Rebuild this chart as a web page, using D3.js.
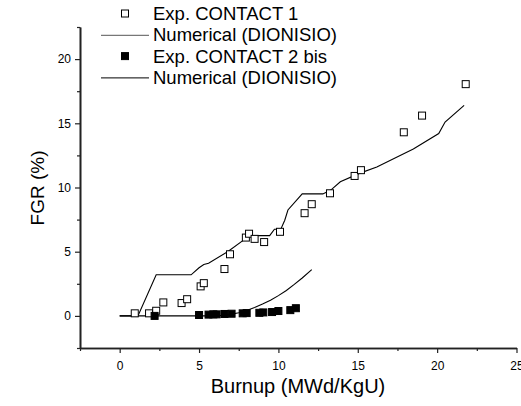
<!DOCTYPE html>
<html>
<head>
<meta charset="utf-8">
<script src="https://cdn.jsdelivr.net/npm/d3@7"></script>
<style>
  body { margin: 0; background: #fff; }
  text { font-family: Arial, "Liberation Sans", sans-serif; }
</style>
</head>
<body>
<script>
// Exp. CONTACT 1 (open squares): burnup, FGR
var expC1Burnup = [0.95, 1.85, 2.3, 2.75, 3.9, 4.25, 5.1, 5.3, 6.6, 6.95, 7.95, 8.15, 8.5, 9.1, 10.1, 11.65, 12.1, 13.25, 14.8, 15.2, 17.9, 19.05, 21.8];
var expC1Fgr    = [0.2, 0.2, 0.4, 1.05, 1.0, 1.3, 2.3, 2.55, 3.65, 4.8, 6.1, 6.4, 6.0, 5.75, 6.55, 8.0, 8.7, 9.55, 10.9, 11.35, 14.3, 15.6, 18.05];

// Numerical (DIONISIO) for CONTACT 1
var numC1Burnup = [0, 1.15, 2.3, 4.5, 5.0, 5.3, 5.6, 6.8, 7.8, 8.1, 9.45, 9.75, 10.15, 10.4, 10.6, 11.5, 12.8, 13.3, 13.9, 15.1, 16.2, 18.5, 20.1, 20.5, 21.7];
var numC1Fgr    = [0, 0, 3.2, 3.2, 3.75, 4.0, 4.1, 5.0, 5.9, 6.25, 6.25, 6.75, 6.75, 7.45, 8.25, 9.5, 9.5, 9.8, 10.45, 11.1, 11.6, 13.0, 14.2, 15.1, 16.4];

// Exp. CONTACT 2 bis (filled squares)
var expC2Burnup = [2.2, 5.0, 5.6, 5.9, 6.1, 6.6, 7.05, 7.75, 8.0, 8.8, 9.05, 9.6, 10.0, 10.75, 11.1];
var expC2Fgr    = [0.0, 0.07, 0.1, 0.12, 0.12, 0.15, 0.17, 0.2, 0.22, 0.24, 0.27, 0.3, 0.38, 0.45, 0.6];

// Numerical (DIONISIO) for CONTACT 2 bis
var numC2Burnup = [0, 6.0, 6.5, 7.0, 7.5, 8.0, 8.5, 9.0, 9.5, 10.0, 10.5, 11.0, 11.5, 12.1];
var numC2Fgr    = [0, 0, 0.05, 0.12, 0.25, 0.42, 0.65, 0.92, 1.22, 1.58, 1.98, 2.45, 2.95, 3.6];

var legendLabels = ["Exp. CONTACT 1", "Numerical (DIONISIO)", "Exp. CONTACT 2 bis", "Numerical (DIONISIO)"];

var xMajor = [0, 5, 10, 15, 20, 25];
var xMinor = [-2.5, 2.5, 7.5, 12.5, 17.5, 22.5];
var yMajor = [0, 5, 10, 15, 20];
var yMinor = [-2.5, 2.5, 7.5, 12.5, 17.5, 22.5];

var W = 521, H = 406;

var x = d3.scaleLinear().domain([-2.5, 25]).range([80, 516.5]);
var y = d3.scaleLinear().domain([-2.5, 22.5]).range([348, 27]);

var svg = d3.select("body").append("svg")
    .attr("width", W)
    .attr("height", H);

function zip(a, b) { return a.map(function(d, i) { return [d, b[i]]; }); }

// axes
var xAxis = svg.append("g")
    .attr("transform", "translate(0,348)")
    .call(d3.axisBottom(x).tickValues(xMajor).tickSize(5).tickSizeOuter(0).tickFormat(d3.format("d")));
svg.append("g")
    .attr("transform", "translate(0,348)")
    .call(d3.axisBottom(x).tickValues(xMinor).tickSize(3).tickSizeOuter(0).tickFormat(""));

var yAxis = svg.append("g")
    .attr("transform", "translate(80,0)")
    .call(d3.axisLeft(y).tickValues(yMajor).tickSize(5).tickSizeOuter(0).tickFormat(d3.format("d")));
svg.append("g")
    .attr("transform", "translate(80,0)")
    .call(d3.axisLeft(y).tickValues(yMinor).tickSize(3).tickSizeOuter(0).tickFormat(""));

svg.selectAll(".domain").attr("stroke", "#222").attr("stroke-width", 1.6);
svg.selectAll(".tick line").attr("stroke", "#222").attr("stroke-width", 1.2);
svg.selectAll(".tick text")
    .attr("fill", "#000")
    .style("font-size", "12px")
    .style("font-family", "Arial, 'Liberation Sans', sans-serif");
xAxis.selectAll(".tick text").attr("dy", "1.2em");
yAxis.selectAll(".tick text").attr("x", -9);

// axis titles
svg.append("text")
    .attr("x", 298)
    .attr("y", 393)
    .attr("text-anchor", "middle")
    .style("font-size", "20px")
    .text("Burnup (MWd/KgU)");

svg.append("text")
    .attr("transform", "translate(44,188) rotate(-90)")
    .attr("text-anchor", "middle")
    .style("font-size", "19px")
    .text("FGR (%)");

// lines
var line = d3.line()
    .x(function(d) { return x(d[0]); })
    .y(function(d) { return y(d[1]); });

svg.append("path")
    .datum(zip(numC1Burnup, numC1Fgr))
    .attr("fill", "none")
    .attr("stroke", "#000")
    .attr("stroke-width", 1.1)
    .attr("d", line);

svg.append("path")
    .datum(zip(numC2Burnup, numC2Fgr))
    .attr("fill", "none")
    .attr("stroke", "#000")
    .attr("stroke-width", 1.1)
    .attr("d", line);

// markers
var s = 7;
svg.selectAll(".c1")
    .data(zip(expC1Burnup, expC1Fgr))
  .enter().append("rect")
    .attr("class", "c1")
    .attr("x", function(d) { return x(d[0]) - s / 2; })
    .attr("y", function(d) { return y(d[1]) - s / 2; })
    .attr("width", s)
    .attr("height", s)
    .attr("fill", "#fff")
    .attr("stroke", "#000")
    .attr("stroke-width", 1);

svg.selectAll(".c2")
    .data(zip(expC2Burnup, expC2Fgr))
  .enter().append("rect")
    .attr("class", "c2")
    .attr("x", function(d) { return x(d[0]) - s / 2; })
    .attr("y", function(d) { return y(d[1]) - s / 2; })
    .attr("width", s)
    .attr("height", s)
    .attr("fill", "#000")
    .attr("stroke", "#000")
    .attr("stroke-width", 1);

// legend
var legend = svg.selectAll(".legend")
    .data(legendLabels)
  .enter().append("g")
    .attr("class", "legend")
    .attr("transform", function(d, i) { return "translate(0," + (13.5 + i * 21.3) + ")"; });

legend.each(function(d, i) {
  var g = d3.select(this);
  if (i % 2 === 0) {
    g.append("rect")
      .attr("x", 121.5).attr("y", -3.5)
      .attr("width", 7).attr("height", 7)
      .attr("fill", i === 0 ? "#fff" : "#000")
      .attr("stroke", "#000");
  } else {
    g.append("line")
      .attr("x1", 101).attr("x2", 149)
      .attr("y1", 0.5).attr("y2", 0.5)
      .attr("stroke", i === 1 ? "#555" : "#000")
      .attr("stroke-width", 1);
  }
});

legend.append("text")
    .attr("x", 153)
    .attr("y", 0)
    .attr("dy", "0.36em")
    .style("font-size", "18.5px")
    .text(function(d) { return d; });
</script>
</body>
</html>
